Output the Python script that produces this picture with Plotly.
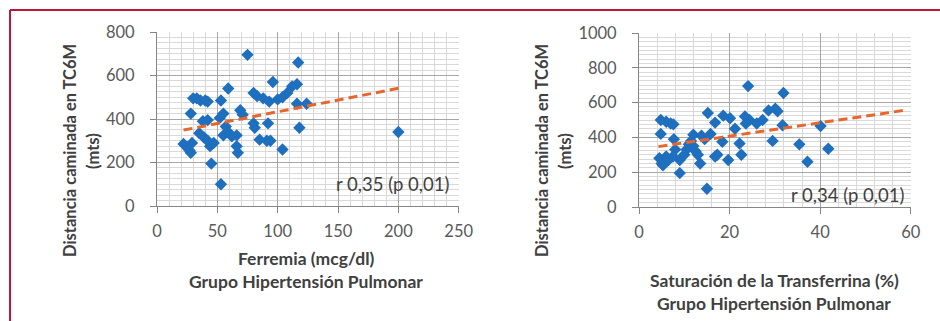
import plotly.graph_objects as go

W, H = 940, 321

# ---- Data: left chart (Ferremia vs distance) ----
ferr_x = [22, 25, 27, 28, 29, 28, 30, 33, 36, 40, 42, 38, 42, 35, 39, 42, 44, 47, 45, 53,
          53, 59, 52, 55, 57, 55, 60, 62, 66, 66, 67, 69, 71, 75, 80, 83, 80, 81, 85, 91,
          88, 93, 92, 96, 100, 104, 108, 112, 116, 104, 117, 116, 124, 118, 200, 94]
ferr_y = [285, 270, 255, 245, 290, 425, 495, 495, 485, 485, 480, 390, 395, 335, 315, 300, 275, 290, 195, 100,
          485, 540, 405, 425, 365, 325, 335, 320, 325, 275, 245, 440, 420, 695, 520, 505, 380, 360, 305, 300,
          495, 480, 380, 570, 490, 500, 520, 550, 560, 260, 660, 470, 470, 360, 340, 300]
ferr_trend_x = [22, 200]
ferr_trend_y = [349, 541]

# ---- Data: right chart (Transferrin saturation vs distance) ----
sat_x = [4.5, 5, 5.3, 6, 6.5, 7.5, 4.8, 6, 7, 7.6, 4.8, 7.7, 9, 9, 10, 10.5, 11, 12, 12.5, 13,
         13.5, 13.8, 11.5, 14.5, 15.2, 15, 15.8, 16.8, 16.8, 17.3, 18.6, 18.4, 20.1, 19.7, 21.2, 22.2,
         22.6, 23.4, 24.1, 24.4, 23.6, 26, 27.3, 28.6, 30.1, 30.6, 31.9, 31.7, 29.5, 35.4, 37.2, 40.1,
         41.8, 12, 8]
sat_y = [280, 250, 240, 290, 270, 290, 500, 490, 480, 475, 420, 390, 195, 270, 300, 330, 360, 415, 320, 300,
         250, 410, 380, 390, 540, 105, 420, 485, 290, 300, 525, 375, 510, 270, 450, 365,
         300, 520, 695, 500, 480, 480, 500, 555, 565, 550, 655, 470, 380, 360, 260, 465,
         335, 350, 330]
sat_trend_x = [4.3, 59]
sat_trend_y = [347, 557]

# ---- Labels ----
y_title_1 = "Distancia caminada en TC6M"
y_title_2 = "(mts)"
ferr_title = "Ferremia (mcg/dl)"
sat_title = "Saturación de la Transferrina (%)"
group_title = "Grupo Hipertensión Pulmonar"
ferr_r = "r 0,35 (p 0,01)"
sat_r = "r 0,34 (p 0,01)"

FONT = "Lato, 'Open Sans', sans-serif"
BLUE = "#1F6FBF"
ORANGE = "#E8652B"
TICKC = "#595959"
TITLEC = "#404040"


def px(x):
    return x / W


def py(y):
    return 1 - y / H


fig = go.Figure()

fig.add_trace(go.Scatter(x=ferr_x, y=ferr_y, mode="markers", xaxis="x", yaxis="y",
                         marker=dict(symbol="diamond", size=9.5, color=BLUE), showlegend=False))
fig.add_trace(go.Scatter(x=ferr_trend_x, y=ferr_trend_y, mode="lines", xaxis="x", yaxis="y",
                         line=dict(color=ORANGE, width=3, dash="9px,5px"), showlegend=False))
fig.add_trace(go.Scatter(x=sat_x, y=sat_y, mode="markers", xaxis="x2", yaxis="y2",
                         marker=dict(symbol="diamond", size=9.5, color=BLUE), showlegend=False))
fig.add_trace(go.Scatter(x=sat_trend_x, y=sat_trend_y, mode="lines", xaxis="x2", yaxis="y2",
                         line=dict(color=ORANGE, width=3, dash="9px,5px"), showlegend=False))

axis_common = dict(
    showgrid=True, gridcolor="#A6A6A6", gridwidth=1,
    showline=True, linecolor="#868686", linewidth=1,
    ticks="outside", ticklen=6, tickcolor="#868686",
    tickfont=dict(family=FONT, size=16.5, color=TICKC),
    zeroline=False, fixedrange=True, automargin=False,
)

fig.update_layout(
    width=W, height=H,
    margin=dict(l=0, r=0, t=0, b=0, pad=0, autoexpand=False),
    paper_bgcolor="white", plot_bgcolor="white",
    font=dict(family=FONT),
    xaxis=dict(domain=[px(157), px(458.7)], range=[0, 250], dtick=50, anchor="y",
               minor=dict(dtick=10, showgrid=True, gridcolor="#D9D9D9"),
               ticklabelstandoff=4, **axis_common),
    yaxis=dict(domain=[py(206), py(32)], range=[0, 800], dtick=200, anchor="x",
               minor=dict(dtick=25, showgrid=True, gridcolor="#D9D9D9"),
               ticklabelstandoff=12, **axis_common),
    xaxis2=dict(domain=[px(639), px(910.7)], range=[0, 60], dtick=20, anchor="y2",
                minor=dict(dtick=4, showgrid=True, gridcolor="#D9D9D9"),
                ticklabelstandoff=4, **axis_common),
    yaxis2=dict(domain=[py(207), py(33)], range=[0, 1000], dtick=200, anchor="x2",
                minor=dict(dtick=25, showgrid=True, gridcolor="#D9D9D9"),
                ticklabelstandoff=12, **axis_common),
)

ann = []


def add_text(text, x, y, size=15, bold=True, angle=0, color=TITLEC):
    t = "<b>" + text + "</b>" if bold else text
    ann.append(dict(text=t, x=px(x), y=py(y), xref="paper", yref="paper",
                    showarrow=False, textangle=angle, xanchor="center", yanchor="middle",
                    font=dict(family=FONT, size=size, color=color)))


add_text(y_title_1, 70, 151, size=16.5, angle=-90)
add_text(y_title_2, 93, 151, size=16.5, angle=-90)
add_text(y_title_1, 542, 151, size=16.5, angle=-90)
add_text(y_title_2, 565, 151, size=16.5, angle=-90)
add_text(ferr_title, 306, 258, size=17.5)
add_text(group_title, 306, 281, size=17.5)
add_text(sat_title, 774, 280, size=17.5)
add_text(group_title, 774, 303, size=17.5)
add_text(ferr_r, 392, 184, size=18.5, bold=False)
add_text(sat_r, 847, 195, size=18.5, bold=False)

fig.update_layout(annotations=ann)

# outer frame (top and left lines)
frame = "#C0143C"
fig.add_shape(type="line", xref="paper", yref="paper", x0=px(10), x1=1, y0=py(10), y1=py(10),
              line=dict(color=frame, width=2))
fig.add_shape(type="line", xref="paper", yref="paper", x0=px(10), x1=px(10), y0=py(10), y1=0,
              line=dict(color=frame, width=2))

fig.write_html("out.html", config={"displayModeBar": False},
               post_script="document.body.style.margin='0';document.body.style.overflow='hidden';")
